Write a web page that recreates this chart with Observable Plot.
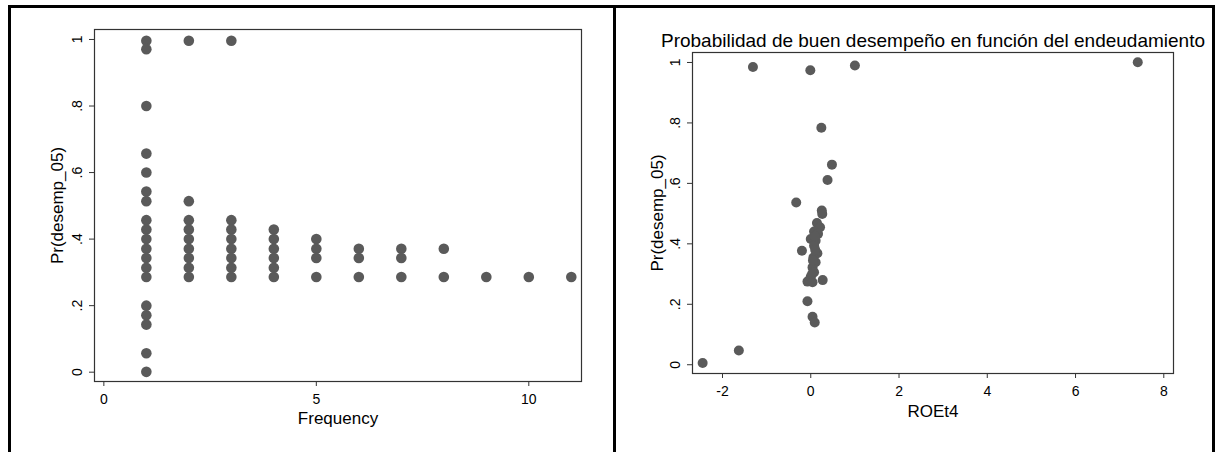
<!DOCTYPE html>
<html><head><meta charset="utf-8">
<script src="https://cdn.jsdelivr.net/npm/d3@7"></script>
<script src="https://cdn.jsdelivr.net/npm/@observablehq/plot@0.6"></script>
<style>
body{margin:0;background:#fff;}
#root{position:relative;width:1216px;height:452px;overflow:hidden;background:#fff;font-family:"Liberation Sans",Arial,sans-serif;}
.bar{position:absolute;background:#000;}
.panel{position:absolute;top:0;}
</style></head><body>
<div id="root">
  <div id="left" class="panel" style="left:0px"></div>
  <div id="right" class="panel" style="left:616px"></div>
  <div class="bar" style="left:8px;top:5px;width:1207px;height:3px"></div>
  <div class="bar" style="left:8px;top:5px;width:3px;height:447px"></div>
  <div class="bar" style="left:613px;top:5px;width:3px;height:447px"></div>
  <div class="bar" style="left:1212px;top:5px;width:3px;height:447px"></div>
</div>
<script>
// Left panel: Pr(desemp_05) vs Frequency
const leftFreq = [
  1,1,1,1,1,1,1,1,1,1,1,1,1,1,1,1,1,1,1,
  2,2,2,2,2,2,2,2,2,
  3,3,3,3,3,3,3,3,
  4,4,4,4,4,4,
  5,5,5,5,
  6,6,6,
  7,7,7,
  8,8,
  9,10,11
];
const leftPr = [
  0.996,0.971,0.800,0.657,0.600,0.543,0.514,0.457,0.429,0.400,0.371,0.343,0.314,0.286,0.200,0.171,0.143,0.057,0.001,
  0.996,0.514,0.457,0.429,0.400,0.371,0.343,0.314,0.286,
  0.996,0.457,0.429,0.400,0.371,0.343,0.314,0.286,
  0.429,0.400,0.371,0.343,0.314,0.286,
  0.400,0.371,0.343,0.286,
  0.371,0.343,0.286,
  0.371,0.343,0.286,
  0.371,0.286,
  0.286,0.286,0.286
];
const leftXTicks = [0, 5, 10];

// Right panel: Pr(desemp_05) vs ROEt4
const roeT4 = [
  -2.45,-1.63,-1.31,-0.01,1.00,7.41,0.24,0.48,0.38,-0.33,0.25,0.26,0.14,0.21,0.075,0.165,
  0.00,0.11,0.075,-0.20,0.15,0.06,0.11,0.04,0.075,0.00,-0.075,0.04,0.27,-0.075,0.04,0.09,
  0.10,0.05,0.09,0.03
];
const rightPr = [
  0.006,0.047,0.985,0.974,0.990,1.001,0.784,0.662,0.611,0.537,0.510,0.499,0.469,0.455,0.441,0.433,
  0.416,0.410,0.394,0.377,0.369,0.355,0.339,0.322,0.306,0.291,0.275,0.273,0.280,0.210,0.159,0.140,
  0.380,0.345,0.425,0.300
];
const rightXTicks = [-2, 0, 2, 4, 6, 8];

const yTicks = [0, 0.2, 0.4, 0.6, 0.8, 1];
const yTickLabels = ["0", ".2", ".4", ".6", ".8", "1"];

const leftData = leftFreq.map((f, i) => ({x: f, y: leftPr[i]}));
const rightData = roeT4.map((r, i) => ({x: r, y: rightPr[i]}));

const FONT = "'Liberation Sans', Arial, sans-serif";
const DOT = "#5a5a5a";
const LINE = "#333";

function panel({width, ml, mr, mt, mb, xDomain, yDomain, xTicks, data, xLabel, yLabelDx, xLabelDy, r, title}) {
  const marks = [
    Plot.frame({stroke: LINE, strokeWidth: 1.2}),
    Plot.axisX(xTicks, {tickSize: 5, tickPadding: 8, label: null, fontSize: 14, stroke: LINE, tickFormat: d => String(d)}),
    Plot.axisY(yTicks, {tickSize: 5, label: null, stroke: LINE, tickFormat: () => ""}),
    Plot.text(yTicks, {y: d => d, text: (d, i) => yTickLabels[i], frameAnchor: "left", textAnchor: "middle", lineAnchor: "middle", dx: -17, rotate: -90, fontSize: 14, fill: "#000"}),
    Plot.text([xLabel], {text: d => d, frameAnchor: "bottom", textAnchor: "middle", lineAnchor: "middle", dy: xLabelDy, fontSize: 17, fill: "#000"}),
    Plot.text(["Pr(desemp_05)"], {text: d => d, frameAnchor: "left", textAnchor: "middle", lineAnchor: "middle", dx: yLabelDx, rotate: -90, fontSize: 17, fill: "#000"}),
    Plot.dot(data, {x: "x", y: "y", r, fill: DOT})
  ];
  if (title) marks.push(Plot.text([title], {text: d => d, frameAnchor: "top", textAnchor: "middle", lineAnchor: "middle", dy: -12, fontSize: 19, fill: "#000"}));
  return Plot.plot({
    width, height: 452,
    marginLeft: ml, marginRight: mr, marginTop: mt, marginBottom: mb,
    style: {fontFamily: FONT, fontSize: "14px", color: "#000", background: "transparent"},
    x: {domain: xDomain},
    y: {domain: yDomain},
    marks
  });
}

document.getElementById("left").append(panel({
  width: 613, ml: 94, mr: 32, mt: 29, mb: 71,
  xDomain: [-0.22, 11.24], yDomain: [-0.028, 1.030],
  xTicks: leftXTicks, data: leftData, xLabel: "Frequency",
  yLabelDx: -37, xLabelDy: 37, r: 5.3
}));

document.getElementById("right").append(panel({
  width: 596, ml: 76, mr: 39, mt: 52, mb: 79,
  xDomain: [-2.68, 8.22], yDomain: [-0.029, 1.033],
  xTicks: rightXTicks, data: rightData, xLabel: "ROEt4",
  yLabelDx: -35, xLabelDy: 38, r: 5,
  title: "Probabilidad de buen desempeño en función del endeudamiento"
}));
</script>
</body></html>
